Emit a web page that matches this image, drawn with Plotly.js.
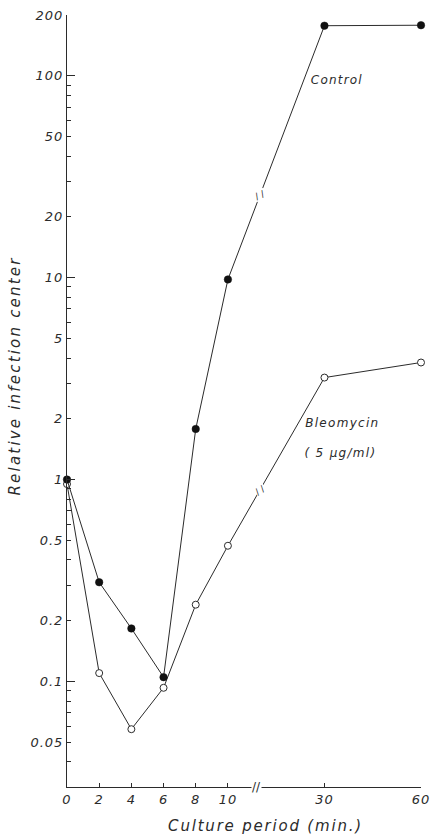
<!DOCTYPE html>
<html>
<head>
<meta charset="utf-8">
<script src="https://cdn.plot.ly/plotly-3.0.1.min.js"></script>
<style>
html,body{margin:0;padding:0;background:#fff;}
#chart{width:433px;height:835px;}
</style>
</head>
<body>
<div id="chart"></div>
<script>
// Culture period (min.)
var minutes = [0, 2, 4, 6, 8, 10, 30, 60];
var control = [1.0, 0.31, 0.183, 0.105, 1.78, 9.8, 177, 178];
var bleomycin = [0.95, 0.11, 0.058, 0.093, 0.24, 0.47, 3.2, 3.8];
var xTickLabels = ['0', '2', '4', '6', '8', '10', '30', '60'];
var yTickVals = [0.05, 0.1, 0.2, 0.5, 1, 2, 5, 10, 20, 50, 100, 200];
var yTickText = ['0.05', '0.1', '0.2', '0.5', '1', '2', '5', '10', '20', '50', '100', '200'];
var yMajorVals = [0.1, 1, 10, 100];
var yMinorVals = [0.04, 0.06, 0.07, 0.08, 0.09, 0.3, 0.4, 0.6, 0.7, 0.8, 0.9,
                  3, 4, 6, 7, 8, 9, 30, 40, 60, 70, 80, 90];

// broken x scale: 0-10 linear, then 30-60 compressed after the break
function xpos(t) { return t <= 10 ? t : 16 + (t - 30) / 5; }
var breakPos = 12;
var xp = minutes.map(xpos);

// value of a series on its line at the break position (log interpolation)
function atBreak(series) {
  var i = minutes.indexOf(10), j = minutes.indexOf(30);
  var f = (breakPos - xp[i]) / (xp[j] - xp[i]);
  return Math.log10(series[i]) + f * (Math.log10(series[j]) - Math.log10(series[i]));
}

var ink = '#2b2b2b';
var fontFam = 'DejaVu Sans, sans-serif';

var traces = [
  {
    x: xp, y: bleomycin, type: 'scatter', mode: 'lines+markers', cliponaxis: false,
    line: {color: ink, width: 1},
    marker: {symbol: 'circle', size: 7, color: '#fff', line: {color: ink, width: 1}},
    hoverinfo: 'skip', showlegend: false
  },
  {
    x: xp, y: control, type: 'scatter', mode: 'lines+markers', cliponaxis: false,
    line: {color: ink, width: 1},
    marker: {symbol: 'circle', size: 7.5, color: '#111', line: {color: '#111', width: 0.5}},
    hoverinfo: 'skip', showlegend: false
  },
  // invisible traces to carry the overlay tick axes
  {x: [0], y: [1], yaxis: 'y2', mode: 'markers', marker: {opacity: 0}, hoverinfo: 'skip', showlegend: false},
  {x: [0], y: [1], yaxis: 'y3', mode: 'markers', marker: {opacity: 0}, hoverinfo: 'skip', showlegend: false}
];

var yRange = [Math.log10(0.03), Math.log10(200)];
var italic = function (s) { return {family: fontFam, size: s, style: 'italic', color: ink}; };

var layout = {
  width: 433, height: 835,
  margin: {l: 67, r: 12, t: 15, b: 48},
  paper_bgcolor: '#fff', plot_bgcolor: '#fff',
  font: {family: fontFam, color: ink, size: 13},
  xaxis: {
    range: [0, 22], showgrid: false, zeroline: false,
    showline: true, linecolor: ink, linewidth: 1,
    tickmode: 'array', tickvals: xp, ticktext: xTickLabels,
    ticks: 'inside', ticklen: 4, tickcolor: ink, tickwidth: 1,
    tickfont: italic(13)
  },
  yaxis: {
    type: 'log', range: yRange, showgrid: false, zeroline: false,
    showline: true, linecolor: ink, linewidth: 1,
    tickmode: 'array', tickvals: yTickVals, ticktext: yTickText,
    ticks: 'inside', ticklen: 4, tickcolor: ink, tickwidth: 1,
    tickfont: italic(13)
  },
  yaxis2: {
    type: 'log', range: yRange, overlaying: 'y', side: 'left', showgrid: false, zeroline: false,
    showline: false, tickmode: 'array', tickvals: yMajorVals, showticklabels: false,
    ticks: 'inside', ticklen: 8, tickcolor: ink, tickwidth: 1
  },
  yaxis3: {
    type: 'log', range: yRange, overlaying: 'y', side: 'left', showgrid: false, zeroline: false,
    showline: false, tickmode: 'array', tickvals: yMinorVals, showticklabels: false,
    ticks: 'inside', ticklen: 4, tickcolor: ink, tickwidth: 1
  },
  annotations: [
    // axis titles (paper coords are relative to the plot area: 354 x 772 px, origin at (67, 787))
    {x: (265 - 67) / 354, y: (787 - 826) / 772, xref: 'paper', yref: 'paper', text: 'Culture period (min.)', showarrow: false,
     xanchor: 'center', yanchor: 'middle', font: italic(15)},
    {x: (15 - 67) / 354, y: (787 - 376) / 772, xref: 'paper', yref: 'paper', text: 'Relative infection center', showarrow: false,
     textangle: -90, xanchor: 'center', yanchor: 'middle', font: italic(15)},
    // series labels
    {x: 15.3, y: Math.log10(95), xref: 'x', yref: 'y', text: 'Control', showarrow: false,
     xanchor: 'left', yanchor: 'middle', font: italic(12)},
    {x: 15, y: Math.log10(1.9), xref: 'x', yref: 'y', text: 'Bleomycin', showarrow: false,
     xanchor: 'left', yanchor: 'middle', xshift: 1, font: italic(12)},
    {x: 15, y: Math.log10(1.9), xref: 'x', yref: 'y', text: '( 5 μg/ml)', showarrow: false,
     xanchor: 'left', yanchor: 'middle', xshift: 1, yshift: -30, font: italic(12)},
    // axis break
    {x: 11.75, y: 0, xref: 'x', yref: 'paper', text: '//', showarrow: false,
     xanchor: 'center', yanchor: 'middle', bgcolor: '#fff', borderpad: 0,
     font: {family: fontFam, size: 12, color: ink}},
    // line breaks
    {x: breakPos, y: atBreak(control), xref: 'x', yref: 'y', text: '/ /', showarrow: false,
     xanchor: 'center', yanchor: 'middle', bgcolor: '#fff', borderpad: 0, textangle: -25,
     font: {family: fontFam, size: 9, color: ink}},
    {x: breakPos, y: atBreak(bleomycin), xref: 'x', yref: 'y', text: '/ /', showarrow: false,
     xanchor: 'center', yanchor: 'middle', bgcolor: '#fff', borderpad: 0, textangle: -35,
     font: {family: fontFam, size: 9, color: ink}}
  ]
};

Plotly.newPlot('chart', traces, layout, {displayModeBar: false, staticPlot: true}).then(function () {
  var spacing = {
    'Culture period (min.)': '1.8px',
    'Relative infection center': '2.2px',
    'Control': '1.2px',
    'Bleomycin': '1.3px',
    '( 5 μg/ml)': '1.3px'
  };
  document.querySelectorAll('.annotation-text').forEach(function (el) {
    var s = spacing[el.textContent];
    if (s) el.style.letterSpacing = s;
  });
  document.querySelectorAll('.xtick text, .ytick text').forEach(function (el) {
    el.style.letterSpacing = '1px';
  });
});
</script>
</body>
</html>
